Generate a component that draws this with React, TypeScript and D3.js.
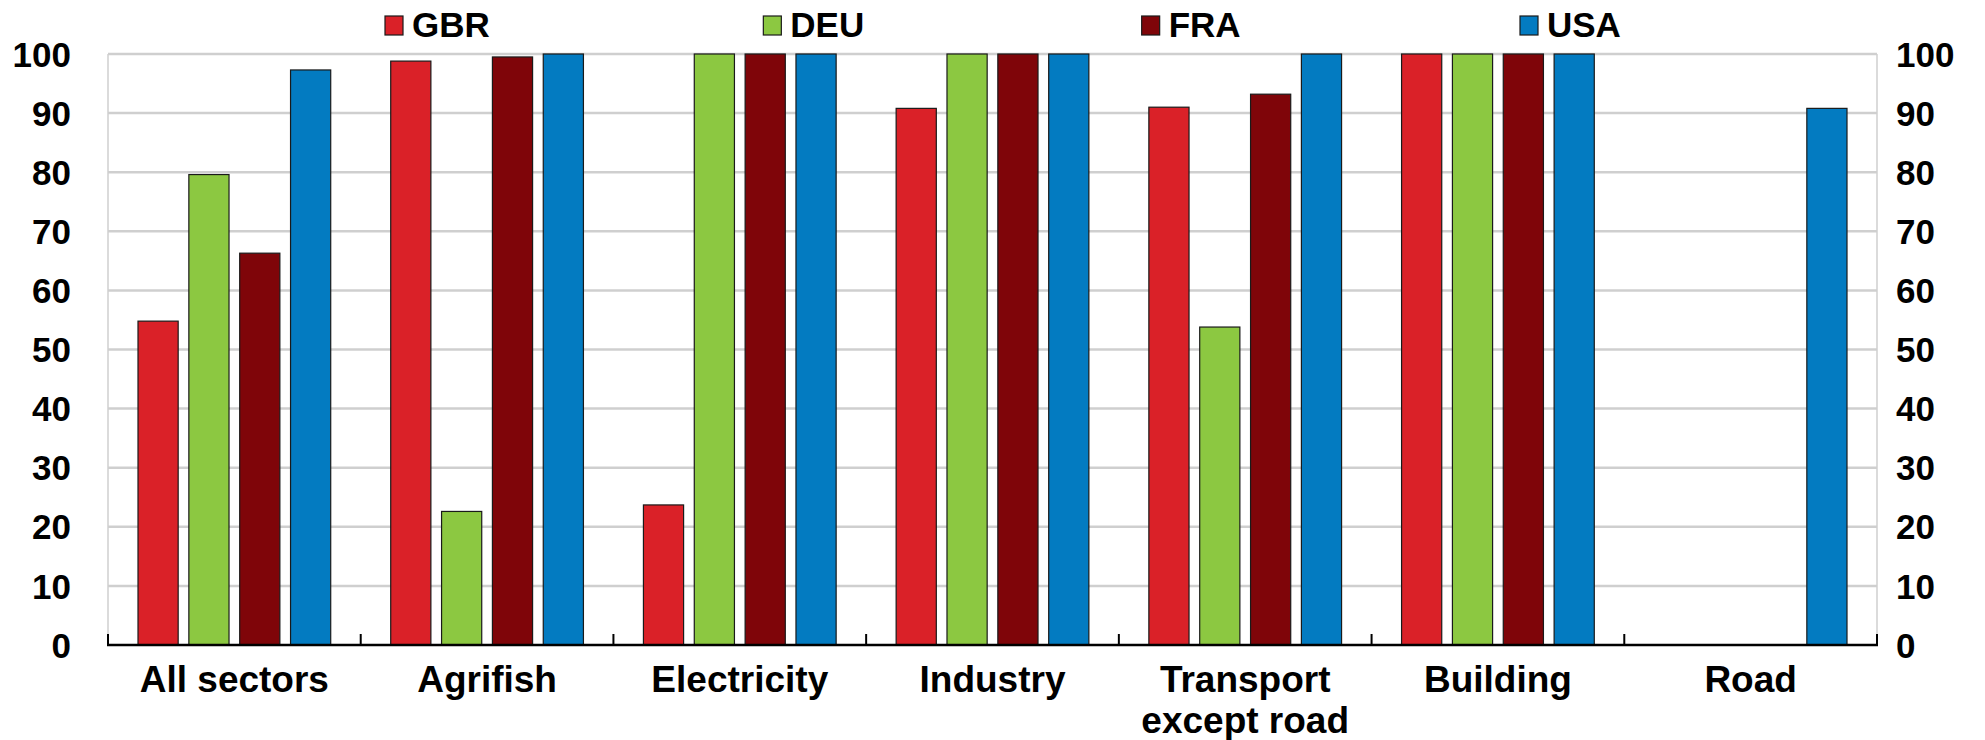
import React from "react";
import * as d3 from "d3";

const categories = ["All sectors", "Agrifish", "Electricity", "Industry", "Transport\nexcept road", "Building", "Road"];
const seriesNames = ["GBR", "DEU", "FRA", "USA"];
const seriesColors = ["#DA2128", "#8CC841", "#7F0509", "#037BC1"];
const GBR = [54.8, 98.8, 23.7, 90.8, 91.0, 100, null];
const DEU = [79.6, 22.6, 100, 100, 53.8, 100, null];
const FRA = [66.3, 99.5, 100, 100, 93.2, 100, null];
const USA = [97.3, 100, 100, 100, 100, 100, 90.8];
const yTicks = [0, 10, 20, 30, 40, 50, 60, 70, 80, 90, 100];

const W = 1985, H = 740;
const L = 108, R = 1877, T = 54, B = 645;
const FONT = "'Liberation Sans', Arial, sans-serif";

export default function App() {
  const values = [GBR, DEU, FRA, USA];
  const x0 = d3.scaleBand<string>().domain(categories).range([L, R]).padding(0);
  const x1 = d3.scaleBand<string>().domain(seriesNames)
    .range([30, x0.bandwidth() - 30]).paddingInner(0.21).paddingOuter(0);
  const y = d3.scaleLinear().domain([0, 100]).range([B, T]);
  const legendX = d3.scalePoint<string>().domain(seriesNames).range([385, 1520]);

  return (
    <svg width={W} height={H} style={{ position: "absolute", left: 0, top: 0, background: "#fff" }}
      fontFamily={FONT} fontWeight="bold">
      {/* gridlines */}
      {yTicks.filter(t => t > 0).map(t => (
        <line key={t} x1={L} x2={R} y1={y(t)} y2={y(t)} stroke="#cfcfcf" strokeWidth={2.5} />
      ))}
      <line x1={L} x2={L} y1={T} y2={B} stroke="#cfcfcf" strokeWidth={1.5} />
      <line x1={R} x2={R} y1={T} y2={B} stroke="#cfcfcf" strokeWidth={1.5} />
      {/* bars */}
      {categories.map((c, ci) => (
        <g key={c} transform={`translate(${x0(c)},0)`}>
          {seriesNames.map((s, si) => {
            const v = values[si][ci];
            if (v == null) return null;
            return (
              <rect key={s} x={x1(s)} width={x1.bandwidth()} y={y(v)} height={y(0) - y(v)}
                fill={seriesColors[si]} stroke="#1a1a1a" strokeWidth={1.2} />
            );
          })}
        </g>
      ))}
      {/* bottom axis */}
      <line x1={L - 1} x2={R + 1} y1={B} y2={B} stroke="#000" strokeWidth={2.5} />
      {[...categories.map(c => x0(c) as number), R].map((tx, i) => (
        <line key={i} x1={tx} x2={tx} y1={B} y2={B - 11} stroke="#000" strokeWidth={2} />
      ))}
      {categories.map(c => {
        const lines = c.split("\n");
        const cx = (x0(c) as number) + x0.bandwidth() / 2;
        return (
          <text key={c} x={cx} y={692} textAnchor="middle" fontSize={37} fill="#000">
            {lines.map((ln, i) => (
              <tspan key={i} x={cx} dy={i === 0 ? 0 : 41}>{ln}</tspan>
            ))}
          </text>
        );
      })}
      {/* y labels */}
      {yTicks.map(t => (
        <g key={t}>
          <text x={71} y={y(t)} dy="0.36em" textAnchor="end" fontSize={35} fill="#000">{t}</text>
          <text x={1896} y={y(t)} dy="0.36em" textAnchor="start" fontSize={35} fill="#000">{t}</text>
        </g>
      ))}
      {/* legend */}
      {seriesNames.map((s, si) => (
        <g key={s} transform={`translate(${legendX(s)},0)`}>
          <rect x={0} y={16} width={18} height={19} fill={seriesColors[si]} stroke="#1a1a1a" strokeWidth={1.2} />
          <text x={27} y={37} fontSize={35} fill="#000">{s}</text>
        </g>
      ))}
    </svg>
  );
}
